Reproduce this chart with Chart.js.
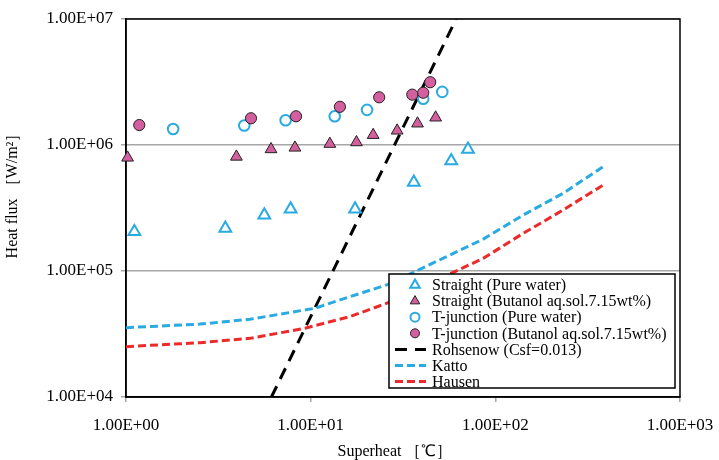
<!DOCTYPE html>
<html>
<head>
<meta charset="utf-8">
<script src="https://cdn.jsdelivr.net/npm/chart.js@4.4.1/dist/chart.umd.min.js"></script>
<style>
  body { margin: 0; background: #fff; }
  canvas { display: block; }
</style>
</head>
<body>
<canvas id="chart" width="719" height="460"></canvas>
<script>
// Measured series (superheat in deg C, heat flux in W/m2)
const straightWaterX = [1.11, 3.45, 5.61, 7.79, 17.4, 36.2, 57.7, 71.1];
const straightWaterY = [2.05e5, 2.18e5, 2.78e5, 3.10e5, 3.10e5, 5.06e5, 7.50e5, 9.25e5];

const straightButanolX = [1.02, 3.96, 6.10, 8.22, 12.7, 17.7, 21.8, 29.4, 37.9, 47.5];
const straightButanolY = [7.93e5, 8.07e5, 9.25e5, 9.52e5, 1.02e6, 1.05e6, 1.20e6, 1.30e6, 1.48e6, 1.65e6];

const tWaterX = [1.80, 4.37, 7.32, 13.5, 20.2, 40.7, 51.6];
const tWaterY = [1.34e6, 1.43e6, 1.57e6, 1.69e6, 1.90e6, 2.33e6, 2.64e6];

const tButanolX = [1.18, 4.75, 8.33, 14.4, 23.5, 35.5, 40.7, 44.4];
const tButanolY = [1.44e6, 1.63e6, 1.69e6, 2.01e6, 2.39e6, 2.51e6, 2.60e6, 3.15e6];

// Correlations
const rohsenowX = [6.13, 61.3];
const rohsenowY = [1e4, 1e7];

const kattoX = [1, 2.52, 4.69, 10.55, 16.3, 26.3, 86, 141.6, 233, 384];
const kattoY = [3.55e4, 3.79e4, 4.14e4, 5.06e4, 6.25e4, 7.83e4, 1.79e5, 2.78e5, 4.14e5, 6.73e5];

const hausenX = [1, 2.52, 4.69, 9.31, 16.3, 26.3, 86, 141.6, 233, 384];
const hausenY = [2.51e4, 2.70e4, 2.92e4, 3.51e4, 4.34e4, 5.60e4, 1.26e5, 1.99e5, 3.05e5, 4.82e5];

// Axis ticks
const xTicks = [1, 10, 100, 1000];
const xTickLabels = ['1.00E+00', '1.00E+01', '1.00E+02', '1.00E+03'];
const yTicks = [1e4, 1e5, 1e6, 1e7];
const yTickLabels = ['1.00E+04', '1.00E+05', '1.00E+06', '1.00E+07'];

const blue = '#29abe2';
const pink = '#d45f9f';
const red = '#ed2a2a';
const serif = '"Liberation Serif", "Times New Roman", serif';

const toPoints = (xs, ys) => xs.map((x, i) => ({x: x, y: ys[i]}));

// Plot frame around the chart area
const frameBox = {
  id: 'frameBox',
  beforeDatasetsDraw(chart) {
    const {ctx, chartArea: a} = chart;
    ctx.save();
    ctx.strokeStyle = '#000';
    ctx.lineWidth = 1.5;
    ctx.strokeRect(a.left, a.top, a.right - a.left, a.bottom - a.top);
    ctx.restore();
  }
};

// Legend box drawn inside the plot, bottom right
const legendBox = {
  id: 'legendBox',
  afterDraw(chart) {
    const {ctx, chartArea} = chart;
    const w = 286, h = 114;
    const left = chartArea.right - 5 - w;
    const top = chartArea.bottom - 9 - h;
    ctx.save();
    ctx.fillStyle = '#fff';
    ctx.fillRect(left, top, w, h);
    ctx.strokeStyle = '#000';
    ctx.lineWidth = 1.5;
    ctx.strokeRect(left, top, w, h);
    ctx.font = '16px ' + serif;
    ctx.textBaseline = 'middle';

    chart.data.datasets.forEach((ds, i) => {
      const y = top + 11 + i * 16.1;
      const cx = left + 26;
      ctx.save();
      if (ds.showLine) {
        ctx.strokeStyle = ds.borderColor;
        ctx.lineWidth = ds.borderWidth;
        ctx.setLineDash(ds.borderDash);
        ctx.beginPath();
        ctx.moveTo(left + 6, y);
        ctx.lineTo(left + 37, y);
        ctx.stroke();
      } else {
        ctx.fillStyle = ds.backgroundColor;
        ctx.strokeStyle = ds.borderColor;
        ctx.lineWidth = ds.borderWidth;
        ctx.beginPath();
        if (ds.pointStyle === 'triangle') {
          const r = 5.5;
          ctx.moveTo(cx, y - r);
          ctx.lineTo(cx + r * 0.866, y + r * 0.5);
          ctx.lineTo(cx - r * 0.866, y + r * 0.5);
          ctx.closePath();
        } else {
          ctx.arc(cx, y, 4.5, 0, Math.PI * 2);
        }
        ctx.fill();
        ctx.stroke();
      }
      ctx.restore();
      ctx.fillStyle = '#000';
      ctx.fillText(ds.label, left + 43, y + 1);
    });
    ctx.restore();
  }
};

const chart = new Chart(document.getElementById('chart').getContext('2d'), {
  type: 'scatter',
  data: {
    datasets: [
      {
        label: 'Straight (Pure water)',
        data: toPoints(straightWaterX, straightWaterY),
        pointStyle: 'triangle',
        pointRadius: 6.8,
        borderColor: blue,
        backgroundColor: '#fff',
        borderWidth: 2,
        clip: false,
        order: 4
      },
      {
        label: 'Straight (Butanol aq.sol.7.15wt%)',
        data: toPoints(straightButanolX, straightButanolY),
        pointStyle: 'triangle',
        pointRadius: 6.8,
        borderColor: '#222',
        backgroundColor: pink,
        borderWidth: 1,
        clip: false,
        order: 3
      },
      {
        label: 'T-junction (Pure water)',
        data: toPoints(tWaterX, tWaterY),
        pointStyle: 'circle',
        pointRadius: 5.3,
        borderColor: blue,
        backgroundColor: '#fff',
        borderWidth: 2,
        clip: false,
        order: 2
      },
      {
        label: 'T-junction (Butanol aq.sol.7.15wt%)',
        data: toPoints(tButanolX, tButanolY),
        pointStyle: 'circle',
        pointRadius: 5.6,
        borderColor: '#222',
        backgroundColor: pink,
        borderWidth: 1,
        clip: false,
        order: 1
      },
      {
        label: 'Rohsenow (Csf=0.013)',
        data: toPoints(rohsenowX, rohsenowY),
        showLine: true,
        pointRadius: 0,
        borderColor: '#000',
        borderWidth: 3,
        borderDash: [12, 8],
        order: 10
      },
      {
        label: 'Katto',
        data: toPoints(kattoX, kattoY),
        showLine: true,
        pointRadius: 0,
        borderColor: blue,
        borderWidth: 3,
        borderDash: [8, 4],
        order: 9
      },
      {
        label: 'Hausen',
        data: toPoints(hausenX, hausenY),
        showLine: true,
        pointRadius: 0,
        borderColor: red,
        borderWidth: 3,
        borderDash: [8, 4],
        order: 8
      }
    ]
  },
  options: {
    responsive: false,
    animation: false,
    layout: {
      padding: {top: 19, right: 39, left: 0, bottom: 0}
    },
    plugins: {
      legend: {display: false},
      tooltip: {enabled: false}
    },
    scales: {
      x: {
        type: 'logarithmic',
        min: 1,
        max: 1000,
        afterBuildTicks: scale => {
          scale.ticks = xTicks.map(v => ({value: v}));
        },
        afterFit: scale => {
          scale.height = 63;
          scale.paddingLeft = 0;
          scale.paddingRight = 0;
        },
        ticks: {
          callback: (value, index) => xTickLabels[index],
          color: '#000',
          font: {family: serif, size: 17},
          padding: 13,
          maxRotation: 0,
          autoSkip: false
        },
        grid: {
          drawOnChartArea: false,
          color: '#a6a6a6',
          tickLength: 5,
          lineWidth: 1.5
        },
        border: {color: '#000', width: 1.5},
        title: {
          display: true,
          text: 'Superheat ［℃］\u3000',
          color: '#000',
          font: {family: serif, size: 16, lineHeight: 1},
          padding: 0
        }
      },
      y: {
        type: 'logarithmic',
        min: 1e4,
        max: 1e7,
        afterBuildTicks: scale => {
          scale.ticks = yTicks.map(v => ({value: v}));
        },
        afterFit: scale => {
          scale.width = 126;
          scale.paddingTop = 0;
          scale.paddingBottom = 0;
        },
        ticks: {
          callback: (value, index) => yTickLabels[index],
          color: '#000',
          font: {family: serif, size: 17},
          padding: 8,
          autoSkip: false
        },
        grid: {
          color: '#a6a6a6',
          tickLength: 5,
          lineWidth: 1.5
        },
        border: {color: '#000', width: 1.5},
        title: {
          display: true,
          text: '\u3000\u3000Heat flux ［W/m²］',
          color: '#000',
          font: {family: serif, size: 16, lineHeight: 1},
          padding: {top: 5, bottom: 0}
        }
      }
    }
  },
  plugins: [frameBox, legendBox]
});
</script>
</body>
</html>
